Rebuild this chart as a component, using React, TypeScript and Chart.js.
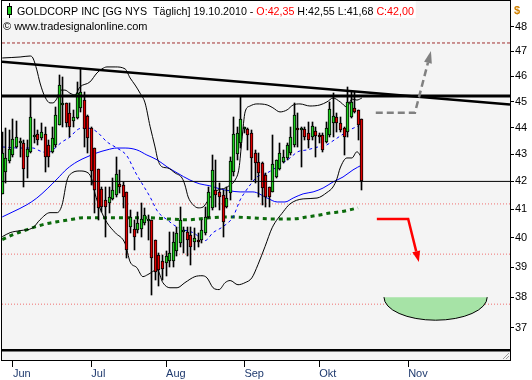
import React, { useEffect, useRef } from 'react';
import { Chart, registerables } from 'chart.js';

Chart.register(...registerables);

// ---- Daily candles (index 0 = 26 May 2010 ... 101 = 19 Oct 2010) ----
const opens = [41.53,42.35,42.75,42.97,43.26,43.43,43.43,42.91,43.07,43.64,43.75,43.59,43.75,43.34,43.09,43.34,44.10,44.87,44.93,44.55,44.25,44.36,44.74,45.06,44.44,43.97,43.22,42.44,41.71,41.33,41.21,41.35,41.51,41.89,41.87,41.63,40.39,40.30,40.28,40.30,40.50,40.60,40.63,39.93,39.41,39.19,39.13,39.19,39.19,39.53,39.81,40.21,40.21,40.10,39.87,39.93,39.93,40.16,40.74,41.03,41.69,41.62,41.51,41.09,41.57,42.35,43.00,43.41,43.93,43.93,43.81,43.03,42.72,42.69,42.23,41.81,41.63,42.15,42.44,42.72,42.85,43.06,43.34,43.97,43.91,43.93,43.81,43.66,43.86,43.70,43.72,43.47,43.72,44.16,44.42,44.19,44.00,43.85,44.40,44.74,44.68,44.32];
const highs = [43.85,43.97,43.91,44.32,44.25,43.60,43.53,43.53,45.19,44.32,43.91,44.16,44.04,43.53,44.04,44.81,46.05,45.98,44.93,44.93,44.68,45.78,46.32,45.39,44.48,44.04,43.22,42.46,41.81,41.81,41.81,42.11,42.91,42.42,41.99,41.63,40.98,40.63,40.91,41.21,41.03,40.80,40.63,39.93,39.47,39.41,39.53,40.21,40.21,40.39,41.09,40.39,40.39,40.39,40.33,40.16,40.63,41.09,41.81,42.97,42.79,41.93,41.69,41.81,42.91,44.42,44.04,45.19,44.04,43.97,43.91,43.16,43.03,42.72,42.29,41.81,43.72,42.79,43.43,43.16,43.41,44.04,44.93,44.55,44.04,44.04,44.23,44.23,44.04,43.78,43.78,44.23,45.00,45.33,44.55,44.42,44.04,45.59,45.39,45.39,44.68,44.32];
const lows = [41.53,41.93,42.66,42.91,43.22,42.90,41.81,42.11,43.03,43.41,43.34,43.53,42.35,42.54,43.03,43.28,44.10,44.04,44.04,43.66,44.04,44.32,44.61,43.28,43.03,41.87,40.86,40.63,40.91,40.04,40.86,41.33,41.45,41.57,41.03,39.30,40.16,39.58,40.16,40.04,40.45,39.93,38.08,38.58,38.36,38.58,38.69,39.02,39.02,39.36,39.70,39.47,39.36,39.08,39.58,39.70,39.81,40.10,40.68,40.98,41.09,40.98,40.04,41.03,41.33,42.20,42.79,43.22,43.78,43.16,42.05,41.93,41.45,41.15,41.09,41.09,41.63,42.11,42.42,42.66,42.79,42.97,43.28,43.28,42.54,43.53,43.22,43.53,42.91,43.41,43.09,43.41,43.66,43.66,43.85,43.85,42.97,43.66,44.36,44.55,43.53,41.68];
const closes = [43.03,42.85,43.18,43.56,43.63,43.45,42.44,43.18,44.42,43.70,43.53,43.85,42.91,42.89,43.59,44.48,45.65,44.96,44.16,44.04,44.40,45.33,45.36,43.93,43.59,42.39,41.69,41.03,41.09,41.09,41.45,41.69,42.26,41.81,41.45,39.58,40.74,40.04,40.53,40.65,40.80,40.63,39.30,38.85,38.91,38.93,39.36,39.47,39.87,40.16,40.63,40.26,39.93,39.70,39.98,39.87,40.28,40.74,41.60,42.42,41.51,41.45,40.56,41.41,42.75,43.76,43.78,44.32,43.97,43.72,42.85,42.66,42.29,41.75,41.45,41.45,42.62,42.79,43.06,42.91,43.34,43.66,44.48,43.91,43.97,43.66,43.53,44.06,43.68,43.66,43.16,43.97,44.70,44.44,44.19,43.89,43.66,44.97,45.00,44.61,44.10,42.00];

// ---- Indicator lines: [day index, price] ----
const upperBand: [number, number][] = [[0,46.73],[5,46.77],[7.8,46.81],[8.6,46.73],[9.7,46.25],[10.6,45.73],[12,45.18],[13.4,44.95],[14.2,44.95],[15.4,45.14],[16.2,45.45],[17.6,45.45],[19,45.33],[20.4,45.26],[21.8,45.57],[24.6,45.77],[26.6,46.13],[28,46.29],[29.4,46.37],[31.7,46.37],[34.5,46.29],[35.9,45.93],[37.3,45.65],[38.7,45.33],[40.1,44.95],[41.5,44.05],[42.9,43.27],[43.7,42.79],[44.9,42.53],[46.5,42.49],[48.5,42.31],[50.5,42.12],[51.3,41.87],[52.2,41.44],[53.6,41.16],[55,41.05],[56.4,41.08],[57.5,41.26],[58.9,41.51],[60.6,41.69],[62.6,41.76],[64,41.87],[65.4,42.05],[66.5,42.49],[67.3,43.53],[68.2,44.6],[69.6,44.83],[71.5,44.91],[74.4,44.87],[76,44.76],[78,44.6],[80,44.68],[81.7,44.87],[83.6,44.91],[86.4,44.83],[89.2,44.87],[91.2,44.99],[92.9,45.14],[94.9,44.99],[96.8,44.79],[98.2,45.1],[99.6,45.06],[101,45.14]];
const lowerBand: [number, number][] = [[0,40.04],[2.2,40.18],[5,40.25],[8.6,40.35],[10.6,40.63],[13.4,40.88],[15.4,40.88],[16.8,41.16],[18.2,42.05],[19.6,42.31],[21.8,42.38],[24.1,42.31],[25.2,42.05],[26,41.58],[27.4,41.05],[29.4,40.53],[31.7,40.18],[34.5,39.8],[35.9,39.18],[37.8,38.98],[39.5,38.68],[40.9,38.75],[43.5,38.91],[45.1,38.48],[47.1,38.31],[49.1,38.31],[51.3,38.48],[54.1,38.68],[56.1,38.71],[57.5,38.64],[59.2,38.31],[60.9,38.25],[62.6,38.48],[64,38.55],[66.2,38.41],[68.2,38.48],[70.1,38.64],[71.8,39.08],[73.8,39.7],[75.8,40.35],[78.9,40.91],[80.8,41.19],[84.5,41.37],[88.4,41.4],[91.2,41.6],[92.9,41.8],[94,42.1],[94.9,42.49],[96.8,42.86],[98.2,42.86],[99.6,43.09],[101,42.86]];
const maSlow: [number, number][] = [[0,40.73],[3,40.91],[6.9,41.16],[9.7,41.4],[12.6,41.73],[15.4,42.09],[18.2,42.46],[21,42.72],[23.8,42.9],[26.6,43.05],[29.4,43.16],[32.2,43.23],[34.5,43.23],[37.8,43.16],[40.6,42.97],[43.5,42.79],[46.3,42.53],[49.1,42.31],[52.7,42.05],[55.5,41.91],[58.3,41.84],[61.1,41.73],[63.9,41.66],[66.8,41.62],[70.4,41.62],[74.4,41.4],[77.2,41.26],[79.4,41.26],[81.7,41.4],[84.5,41.55],[87.3,41.62],[90.1,41.76],[92.9,41.98],[95.7,42.16],[98.5,42.42],[101,42.6]];
const maFast: [number, number][] = [[0,43.27],[5,43.23],[8.6,43.23],[10.6,43.12],[12.8,43.05],[14.2,43.16],[16.8,43.46],[19,43.64],[21,43.91],[22.7,43.99],[25.2,43.95],[26.9,43.8],[29.4,43.46],[32.2,43.23],[35,42.94],[37.3,42.35],[39.5,41.87],[41.5,41.44],[43.7,40.91],[46.3,40.63],[48.5,40.42],[50.8,40.28],[53.6,40.18],[55.5,40.01],[56.9,39.9],[59.2,40.18],[62,40.39],[64.8,40.73],[66.8,41.33],[68.2,41.62],[69.6,41.87],[71.5,42.16],[73.8,42.27],[77.2,42.53],[80.8,42.86],[83,43.09],[85.6,43.16],[88.7,43.27],[90.6,43.31],[92.9,43.5],[94.9,43.68],[97.6,43.91],[99.9,44.06]];
const ma200: [number, number][] = [[0,39.94],[3,40.11],[7.8,40.32],[11.4,40.46],[15.4,40.56],[19,40.63],[22.7,40.7],[27.4,40.7],[32.2,40.7],[36.7,40.7],[41.5,40.7],[46.3,40.66],[51.9,40.63],[58.3,40.7],[63.9,40.73],[69.6,40.7],[76,40.66],[81.7,40.66],[85.6,40.73],[89.2,40.8],[92,40.87],[94.9,40.91],[97.6,40.98],[99.9,41.05]];

// ---- Drawn levels and lines ----
const trendLine: [number, number][] = [[-0.08,46.58],[142.6,44.89]];
const resistanceLevel = 45.22;
const lastCloseLevel = 42.0;
const topDashedLevel = 47.34;
const dottedLevels = [41.19, 39.44, 37.77];

// ---- Forecast sketches [day index, price] ----
const grayArrow: [number, number][] = [[104.9,44.57],[115.9,44.57],[120.4,47.01]];
const redArrow: [number, number][] = [[105.2,40.66],[114.0,40.66],[117.0,39.17]];
const bowlLeft: [number, number] = [107.2, 38.0];
const bowlRight: [number, number] = [136.2, 38.0];
const bowlBottom = 37.25;

// ---- Axes ----
const xMin = -0.08;
const xMax = 142.6;
const yMin = 35.99;
const yMax = 49.09;
const yTicks = [37, 38, 39, 40, 41, 42, 43, 44, 45, 46, 47, 48];
const monthTickIdx = [3, 25, 46, 68, 89, 114];
const monthLabels = ['Jun', 'Jul', 'Aug', 'Sep', 'Okt', 'Nov'];

const headerParts = [
  { text: 'GOLDCORP INC [GG NYS  T\u00e4glich] 19.10.2010 - ', color: '#000000' },
  { text: 'O:42,35', color: '#ff0000' },
  { text: ' H:42,55 L:41,68 ', color: '#000000' },
  { text: 'C:42,00', color: '#ff0000' },
];
const copyright = '\u00a9 www.tradesignalonline.com';

const FONT = '"Liberation Sans", Arial, sans-serif';

function drawArrow(ctx: CanvasRenderingContext2D, pts: number[][], color: string, width: number, dash: number[], headLen: number, headHalf: number) {
  const n = pts.length;
  const [x1, y1] = pts[n - 2];
  const [x2, y2] = pts[n - 1];
  const ang = Math.atan2(y2 - y1, x2 - x1);
  const bx = x2 - headLen * Math.cos(ang);
  const by = y2 - headLen * Math.sin(ang);
  ctx.save();
  ctx.strokeStyle = color;
  ctx.lineWidth = width;
  ctx.setLineDash(dash);
  ctx.beginPath();
  ctx.moveTo(pts[0][0], pts[0][1]);
  for (let k = 1; k < n - 1; k++) ctx.lineTo(pts[k][0], pts[k][1]);
  ctx.lineTo(bx, by);
  ctx.stroke();
  ctx.setLineDash([]);
  ctx.fillStyle = color;
  ctx.beginPath();
  ctx.moveTo(x2, y2);
  ctx.lineTo(bx + headHalf * Math.sin(ang), by - headHalf * Math.cos(ang));
  ctx.lineTo(bx - headHalf * Math.sin(ang), by + headHalf * Math.cos(ang));
  ctx.closePath();
  ctx.fill();
  ctx.restore();
}

const bgPlugin = {
  id: 'bgPlugin',
  beforeDraw(chart: any) {
    const { ctx, chartArea: a } = chart;
    ctx.save();
    ctx.fillStyle = '#ffffff';
    ctx.fillRect(0, 0, chart.width, chart.height);
    ctx.fillStyle = '#f4f4f4';
    ctx.fillRect(a.left, a.top, a.right - a.left, a.bottom - a.top);
    ctx.restore();
  },
};

// snap candle bars to whole pixels so they render crisp like the original
const snapPlugin = {
  id: 'snapPlugin',
  afterDatasetsUpdate(chart: any) {
    chart.data.datasets.forEach((ds: any, i: number) => {
      if (ds.type !== 'bar') return;
      const meta = chart.getDatasetMeta(i);
      meta.data.forEach((el: any) => {
        el.x = Math.floor(el.x) + 0.5;
        let y = Math.round(el.y);
        let b = Math.round(el.base);
        if (ds.barThickness > 1 && Math.abs(b - y) < 2) b = y + 2;
        el.y = y;
        el.base = b;
      });
    });
  },
};

const overlayPlugin = {
  id: 'overlayPlugin',
  afterDatasetsDraw(chart: any) {
    const { ctx, chartArea: a } = chart;
    const xs = chart.scales.x;
    const ys = chart.scales.y;
    const P = (p: [number, number]) => [xs.getPixelForValue(p[0]), ys.getPixelForValue(p[1])];
    ctx.save();
    ctx.beginPath();
    ctx.rect(a.left, a.top, a.right - a.left, a.bottom - a.top);
    ctx.clip();
    const [lx, ty] = P(bowlLeft);
    const [rx] = P(bowlRight);
    const by = ys.getPixelForValue(bowlBottom);
    const cx = (lx + rx) / 2;
    const rX = (rx - lx) / 2;
    const rY = by - ty;
    ctx.beginPath();
    ctx.ellipse(cx, ty, rX, rY, 0, 0, Math.PI);
    ctx.closePath();
    ctx.fillStyle = '#a6e3a6';
    ctx.fill();
    ctx.beginPath();
    ctx.ellipse(cx, ty, rX, rY, 0, 0, Math.PI);
    ctx.strokeStyle = '#000000';
    ctx.lineWidth = 1;
    ctx.stroke();
    drawArrow(ctx, grayArrow.map(P), '#808080', 2.5, [7, 4], 12, 4);
    drawArrow(ctx, redArrow.map(P), '#ff0000', 2.5, [], 11, 4);
    ctx.restore();
  },
  afterDraw(chart: any) {
    const { ctx, chartArea: a } = chart;
    ctx.save();
    ctx.fillStyle = '#000000';
    ctx.fillRect(a.left, a.bottom - 11, a.right - a.left, 2.5);
    ctx.strokeStyle = '#000000';
    ctx.lineWidth = 1;
    ctx.strokeRect(a.left - 0.5, a.top - 0.5, a.right - a.left + 1, a.bottom - a.top + 1);
    ctx.strokeStyle = '#9a9a9a';
    ctx.beginPath();
    ctx.moveTo(a.right - 7, a.bottom - 1);
    ctx.lineTo(a.right - 1, a.bottom - 7);
    ctx.moveTo(a.right - 4, a.bottom - 1);
    ctx.lineTo(a.right - 1, a.bottom - 4);
    ctx.stroke();
    ctx.font = '10.7px ' + FONT;
    ctx.textBaseline = 'alphabetic';
    let x = a.left + 15;
    const total = headerParts.reduce((s, p) => s + ctx.measureText(p.text).width, 0);
    ctx.fillStyle = '#ffffff';
    ctx.fillRect(a.left, a.top, x - a.left + total + 2, 17);
    for (const p of headerParts) {
      ctx.fillStyle = p.color;
      ctx.fillText(p.text, x, a.top + 14);
      x += ctx.measureText(p.text).width;
    }
    ctx.font = '11px ' + FONT;
    ctx.fillStyle = '#000000';
    ctx.fillText(copyright, a.left + 1, a.top + 29);
    ctx.fillStyle = '#000000';
    ctx.fillRect(a.left + 7, a.top + 2, 1, 15);
    ctx.fillRect(a.left + 5, a.top + 5, 5, 9);
    ctx.fillStyle = '#20d020';
    ctx.fillRect(a.left + 6, a.top + 6, 3, 7);
    ctx.fillStyle = '#d08000';
    ctx.font = 'bold 11px ' + FONT;
    ctx.fillText('$', a.right + 4, a.top + 13);
    ctx.restore();
  },
};

export default function App() {
  const ref = useRef<HTMLCanvasElement>(null);
  useEffect(() => {
    const canvas = ref.current;
    if (!canvas) return;
    const up = opens.map((o, i) => closes[i] >= o);
    const pts = (arr: [number, number][]) => arr.map(([x, y]) => ({ x, y }));
    const hline = (v: number) => [{ x: xMin, y: v }, { x: xMax, y: v }];
    const line = (data: any[], color: string, width: number, dash: number[], order: number, smooth = true) => ({
      type: 'line' as const,
      data,
      borderColor: color,
      borderWidth: width,
      borderDash: dash,
      pointRadius: 0,
      fill: false,
      order,
      cubicInterpolationMode: smooth ? ('monotone' as const) : ('default' as const),
    });
    const datasets: any[] = [
      ...dottedLevels.map((v) => line(hline(v), '#f07070', 1, [1, 2], 20, false)),
      line(hline(topDashedLevel), '#a03030', 1, [3, 2], 20, false),
      line(pts(ma200), '#0b6b0b', 3, [4, 4], 12),
      line(pts(maSlow), '#0000ff', 1, [], 11),
      line(pts(maFast), '#0000ff', 1, [3, 3], 11),
      line(pts(upperBand), '#000000', 1, [], 10),
      line(pts(lowerBand), '#000000', 1, [], 10),
      {
        type: 'bar',
        data: opens.map((_, i) => ({ x: i, y: [lows[i], highs[i]] })),
        backgroundColor: '#000000',
        borderWidth: 0,
        barThickness: 1,
        grouped: false,
        order: 3,
      },
      {
        type: 'bar',
        data: opens.map((o, i) => ({ x: i, y: [o, closes[i]] })),
        backgroundColor: up.map((u) => (u ? '#20d020' : '#e00000')),
        borderColor: '#000000',
        borderWidth: 1,
        borderSkipped: false,
        barThickness: 3,
        minBarLength: 2,
        grouped: false,
        order: 2,
      },
      line(pts(trendLine), '#000000', 2.5, [], 0, false),
      line(hline(resistanceLevel), '#000000', 3, [], 0, false),
      line(hline(lastCloseLevel), '#000000', 1, [], 0, false),
    ];
    const chart = new Chart(canvas, {
      type: 'bar',
      data: { datasets },
      options: {
        animation: false,
        responsive: false,
        devicePixelRatio: 1,
        events: [],
        layout: { padding: { left: 2, top: 1, right: 0, bottom: 0 } },
        plugins: { legend: { display: false }, tooltip: { enabled: false }, title: { display: false } },
        scales: {
          x: {
            type: 'linear',
            min: xMin,
            max: xMax,
            bounds: 'data',
            offset: false,
            afterBuildTicks: (s: any) => { s.ticks = monthTickIdx.map((v) => ({ value: v })); },
            afterFit: (s: any) => { s.height = 20; s.paddingLeft = 0; s.paddingRight = 0; },
            grid: { display: true, drawOnChartArea: false, drawTicks: true, tickLength: 7, color: '#000000', offset: false },
            border: { display: false },
            ticks: {
              autoSkip: false,
              maxRotation: 0,
              align: 'start',
              padding: 0,
              color: '#1f3a6e',
              font: { family: FONT, size: 11 },
              callback: (v: any) => { const k = monthTickIdx.indexOf(Number(v)); return k >= 0 ? monthLabels[k] : ''; },
            },
          },
          y: {
            type: 'logarithmic',
            position: 'right',
            min: yMin,
            max: yMax,
            bounds: 'data',
            afterBuildTicks: (s: any) => { s.ticks = yTicks.map((v) => ({ value: v })); },
            afterFit: (s: any) => { s.width = 22; s.paddingTop = 0; s.paddingBottom = 0; },
            grid: { display: true, drawOnChartArea: false, drawTicks: true, tickLength: 4, color: '#000000' },
            border: { display: false },
            ticks: {
              autoSkip: false,
              padding: 1,
              color: '#000000',
              font: { family: FONT, size: 11 },
              callback: (v: any) => String(v),
            },
          },
        },
      } as any,
      plugins: [bgPlugin, snapPlugin, overlayPlugin],
    } as any);
    return () => chart.destroy();
  }, []);
  return (
    <div style={{ position: 'fixed', left: 0, top: 0, width: 532, height: 380, background: '#ffffff' }}>
      <canvas ref={ref} width={532} height={380} style={{ display: 'block', width: 532, height: 380 }} />
    </div>
  );
}
